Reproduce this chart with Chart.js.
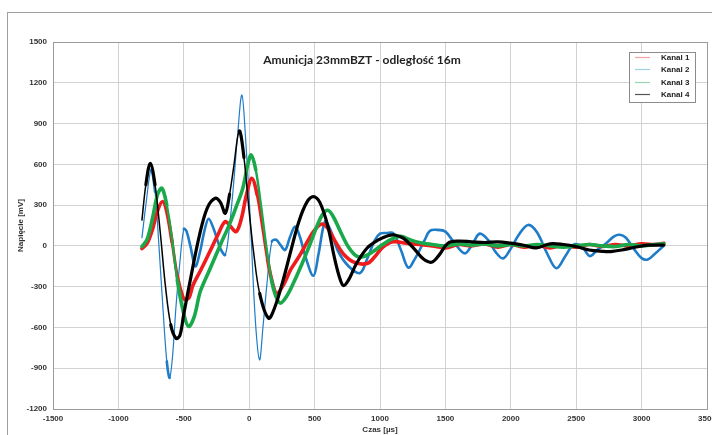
<!DOCTYPE html>
<html>
<head>
<meta charset="utf-8">
<script src="https://cdn.jsdelivr.net/npm/chart.js@4/dist/chart.umd.min.js"></script>
<style>
html,body{margin:0;padding:0;background:#fff;}
#c{display:block;}
</style>
</head>
<body>
<canvas id="c" width="712" height="435"></canvas>
<script>
// ---- data ----
const chartTitle = "Amunicja 23mmBZT - odległość 16m";
const seriesNames = ["Kanal 1", "Kanal 2", "Kanal 3", "Kanal 4"];
const xTicks = [-1500, -1000, -500, 0, 500, 1000, 1500, 2000, 2500, 3000, 3500];
const yTicks = [-1200, -900, -600, -300, 0, 300, 600, 900, 1200, 1500];

// Kanal 1 (red)
const czasK1 = [-820,-780,-740,-700,-662,-630,-590,-550,-510,-489,-460,-430,-374,-300,-240,-183,-140,-99,-60,-20,20,60,100,140,180,211,260,320,389,450,491,550,600,660,720,800,900,960,1020,1100,1200,1300,1400,1500,1600,1700,1800,1900,2000,2100,2200,2300,2400,2500,2600,2700,2800,2900,3000,3100,3170];
const kanal1 = [-20,20,120,260,326,250,30,-220,-370,-397,-380,-290,-185,-40,80,179,140,105,200,380,497,380,150,-100,-280,-348,-290,-170,-66,40,105,160,130,30,-60,-120,-130,-80,-10,30,20,10,0,-15,10,0,15,-10,10,-10,5,-15,5,-10,10,-5,10,0,15,10,20];

// Kanal 2 (blue)
const czasK2 = [-820,-790,-750,-720,-690,-660,-630,-608,-585,-560,-530,-500,-480,-450,-412,-380,-340,-310,-270,-220,-183,-150,-120,-90,-56,-25,8,46,79,105,135,173,206,240,275,310,351,390,430,491,530,580,620,680,760,847,900,960,1000,1050,1102,1160,1216,1270,1340,1380,1432,1500,1570,1649,1710,1763,1830,1880,1941,2000,2060,2132,2200,2280,2349,2420,2480,2540,2603,2660,2730,2790,2832,2880,2940,3000,3048,3100,3163];
const kanal2 = [60,300,560,400,0,-450,-850,-970,-800,-450,-120,125,110,0,-150,-60,120,200,120,-20,-66,150,448,800,1110,750,204,-532,-838,-600,-287,32,45,5,-30,60,142,60,-80,-220,-60,180,120,-40,-150,-200,-100,40,90,95,93,-30,-160,-90,40,110,118,105,20,-55,20,90,40,-40,-92,-20,80,154,100,-60,-165,-70,10,0,-75,-30,20,70,82,60,-20,-90,-100,-60,-5];

// Kanal 3 (green)
const czasK3 = [-820,-780,-740,-700,-667,-630,-590,-550,-500,-463,-420,-374,-300,-221,-150,-94,-50,-10,15,50,90,130,170,200,237,280,340,400,460,520,560,600,640,700,760,820,870,950,1020,1100,1160,1230,1300,1400,1500,1600,1700,1800,1900,2000,2100,2200,2300,2400,2500,2600,2700,2800,2900,3000,3100,3170];
const kanal3 = [-5,50,200,380,424,300,50,-250,-500,-593,-520,-336,-170,7,160,301,420,600,669,560,300,0,-250,-360,-421,-380,-270,-140,0,150,230,262,220,100,-10,-75,-80,-40,10,55,70,45,25,10,0,15,5,15,0,10,0,10,0,-10,0,10,0,-5,10,0,10,15];

// Kanal 4 (black)
const czasK4 = [-820,-790,-756,-720,-680,-640,-600,-560,-530,-500,-440,-380,-320,-260,-220,-183,-150,-120,-76,-40,0,33,80,148,200,260,320,380,440,490,540,600,650,690,720,760,820,900,980,1060,1115,1180,1260,1330,1394,1450,1520,1600,1700,1800,1900,2000,2100,2195,2300,2400,2500,2600,2700,2760,2850,2950,3050,3170];
const kanal4 = [190,450,608,450,100,-300,-580,-680,-660,-500,-200,80,280,350,320,240,380,570,845,650,250,-40,-350,-532,-440,-250,-30,180,320,362,320,150,-80,-230,-292,-250,-130,-17,40,75,80,55,-20,-95,-120,-70,20,35,30,25,30,20,5,-15,15,10,-5,-30,-40,-42,-30,-10,5,5];

// ---- styles ----
const lineColors = ["#ee1c1c", "#1f7cc8", "#19a84a", "#000000"];
const legendColors = ["#f2a4a4", "#9fcfe6", "#97d6ad", "#555555"];
const baseWidths = [3.6, 2.6, 3.6, 3.2];
const thinWidths = [3.0, 1.2, 2.4, 1.5];
const drawOrder = [2, 3, 1, 0];

function pts(xs, ys) { return xs.map((x, i) => ({ x: x, y: ys[i] })); }
const allX = [czasK1, czasK2, czasK3, czasK4];
const allY = [kanal1, kanal2, kanal3, kanal4];

const datasets = seriesNames.map((name, i) => ({
  label: name,
  data: pts(allX[i], allY[i]),
  borderColor: lineColors[i],
  backgroundColor: lineColors[i],
  borderWidth: baseWidths[i],
  borderCapStyle: 'round',
  borderJoinStyle: 'round',
  pointRadius: 0,
  tension: 0.35,
  fill: false,
  order: drawOrder[i],
  segment: {
    borderWidth: ctx => {
      const dx = ctx.p1.parsed.x - ctx.p0.parsed.x;
      const dy = Math.abs(ctx.p1.parsed.y - ctx.p0.parsed.y);
      return (dy / dx) > 5.5 ? thinWidths[i] : baseWidths[i];
    }
  }
}));

const decorPlugin = {
  id: 'decor',
  beforeDraw(chart) {
    const c = chart.ctx;
    c.save();
    c.fillStyle = '#fff';
    c.fillRect(0, 0, chart.width, chart.height);
    c.strokeStyle = '#a0a0a0';
    c.lineWidth = 1;
    c.strokeRect(7.5, 12.5, 740, 460);
    c.restore();
  },
  afterDraw(chart) {
    const c = chart.ctx;
    const a = chart.chartArea;
    c.save();
    c.strokeStyle = '#9a9a9a';
    c.lineWidth = 1;
    c.strokeRect(Math.round(a.left) + 0.5, Math.round(a.top) + 0.5, Math.round(a.right - a.left), Math.round(a.bottom - a.top));
    c.fillStyle = '#222';
    c.font = 'bold 12px Lato, "Open Sans", sans-serif';
    c.textAlign = 'center';
    c.textBaseline = 'middle';
    c.fillText(chartTitle, 362, 60);
    const lx = 629, ly = 52, lw = 66, lh = 50;
    c.fillStyle = '#fff';
    c.fillRect(lx, ly, lw, lh);
    c.strokeStyle = '#8c8c8c';
    c.strokeRect(lx + 0.5, ly + 0.5, lw, lh);
    c.font = 'bold 8px "Liberation Sans", Arial, sans-serif';
    c.textAlign = 'left';
    seriesNames.forEach((n, i) => {
      const y = ly + 5 + 12.4 * i;
      c.strokeStyle = legendColors[i];
      c.lineWidth = 1.2;
      c.beginPath();
      c.moveTo(635, Math.round(y) + 0.5);
      c.lineTo(650, Math.round(y) + 0.5);
      c.stroke();
      c.fillStyle = '#222';
      c.fillText(n, 661, y + 0.5);
    });
    c.restore();
  }
};

const tickFont = { family: '"Liberation Sans", Arial, sans-serif', size: 8, weight: 'bold' };

new Chart(document.getElementById('c'), {
  type: 'line',
  data: { datasets: datasets },
  plugins: [decorPlugin],
  options: {
    responsive: false,
    animation: false,
    devicePixelRatio: 1,
    layout: { padding: { left: 8, right: 5, top: 42, bottom: 0 } },
    plugins: {
      legend: { display: false },
      tooltip: { enabled: false },
      title: { display: false }
    },
    scales: {
      x: {
        type: 'linear',
        min: xTicks[0],
        max: xTicks[xTicks.length - 1],
        afterBuildTicks: s => { s.ticks = xTicks.map(v => ({ value: v })); },
        afterFit: s => { s.height = 26; s.paddingLeft = 0; s.paddingRight = 0; },
        ticks: {
          autoSkip: false,
          maxRotation: 0,
          padding: 5,
          color: '#333',
          font: tickFont,
          callback: v => String(v)
        },
        grid: { color: '#d2d2d2', drawTicks: false },
        border: { color: '#9a9a9a' },
        title: {
          display: true,
          text: 'Czas [µs]',
          color: '#333',
          padding: { top: 0, bottom: 0 },
          font: tickFont
        }
      },
      y: {
        type: 'linear',
        min: yTicks[0],
        max: yTicks[yTicks.length - 1],
        afterBuildTicks: s => { s.ticks = yTicks.map(v => ({ value: v })); },
        afterFit: s => { s.width = 45; s.paddingTop = 0; s.paddingBottom = 0; },
        ticks: {
          autoSkip: false,
          padding: 6,
          color: '#333',
          font: tickFont,
          callback: v => String(v)
        },
        grid: { color: '#d2d2d2', drawTicks: false },
        border: { color: '#9a9a9a' },
        title: {
          display: true,
          text: 'Napięcie [mV]',
          color: '#333',
          padding: { top: 8, bottom: 0 },
          font: tickFont
        }
      }
    }
  }
});
</script>
</body>
</html>
